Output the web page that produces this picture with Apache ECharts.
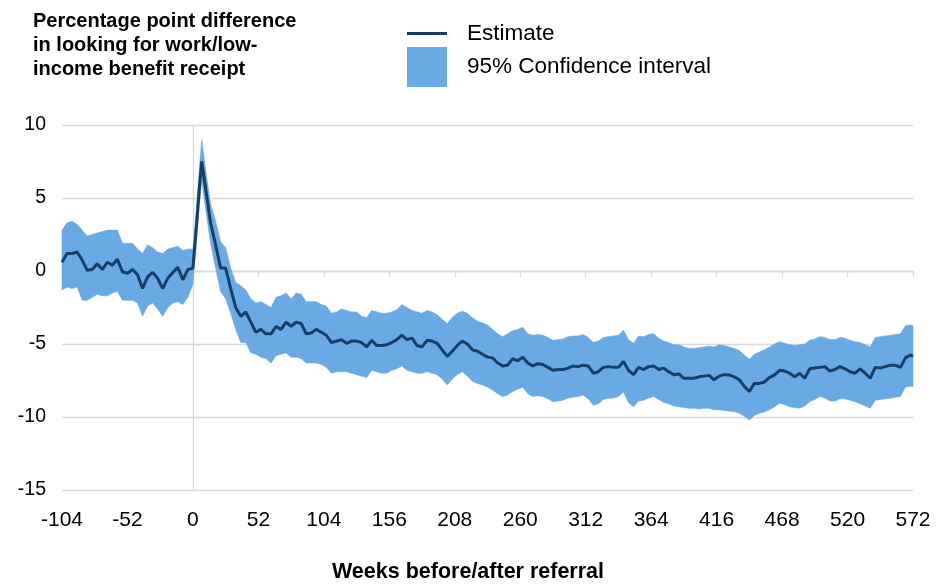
<!DOCTYPE html>
<html><head><meta charset="utf-8">
<script src="https://cdn.jsdelivr.net/npm/echarts@6/dist/echarts.min.js"></script>
<style>html,body{margin:0;padding:0;background:#fff}#c{width:936px;height:585px}</style>
</head><body><div id="c"></div>
<script>
// Weeks before/after referral
const weeks = [
  -104,-100,-96,-92,-88,-84,-80,-76,-72,-68,-64,-60,-56,-52,-48,-44,-40,-36,-32,-28,-24,-20,-16,-12,-8,-4,0,
  3,5,7,10,14,
  18,22,26,30,34,38,42,46,50,54,
  58,62,66,70,74,78,82,86,90,94,
  98,102,106,110,114,118,122,126,130,134,
  138,142,146,150,154,158,162,166,170,174,
  178,182,186,190,194,198,202,206,210,214,
  218,222,226,230,234,238,242,246,250,254,
  258,262,266,270,274,278,282,286,290,294,
  298,302,306,310,314,318,322,326,330,334,
  338,342,346,350,354,358,362,366,370,374,
  378,382,386,390,394,398,402,406,410,414,
  418,422,426,430,434,438,442,446,450,454,
  458,462,466,470,474,478,482,486,490,494,
  498,502,506,510,514,518,522,526,530,534,
  538,542,546,550,554,558,562,566,570,572
];
// Estimate (percentage points)
const estimate = [
  0.6,1.2,1.2,1.3,0.75,0.05,0.1,0.5,0.1,0.6,0.4,0.8,-0.05,-0.15,0.1,-0.25,-1.2,-0.4,-0.1,-0.5,-1.2,-0.5,-0.1,0.25,-0.6,0.1,0.2,
  3.3,5.6,7.5,5.7,3.3,
  1.8,0.2,0.2,-1.2,-2.5,-3.1,-2.8,-3.5,-4.2,-4.0,
  -4.3,-4.3,-3.8,-4.0,-3.5,-3.8,-3.5,-3.6,-4.3,-4.25,
  -4.0,-4.2,-4.4,-4.9,-4.8,-4.7,-4.95,-4.8,-4.8,-4.9,
  -5.2,-4.75,-5.1,-5.1,-5.05,-4.9,-4.7,-4.4,-4.7,-4.6,
  -5.1,-5.2,-4.75,-4.8,-4.95,-5.4,-5.85,-5.5,-5.1,-4.8,
  -5.0,-5.4,-5.5,-5.7,-5.9,-5.95,-6.3,-6.5,-6.45,-6.0,
  -6.15,-5.9,-6.3,-6.5,-6.35,-6.4,-6.6,-6.8,-6.75,-6.75,
  -6.65,-6.5,-6.55,-6.45,-6.5,-7.0,-6.9,-6.6,-6.55,-6.6,
  -6.6,-6.2,-6.8,-7.1,-6.6,-6.75,-6.55,-6.5,-6.75,-6.65,
  -6.9,-7.1,-7.05,-7.35,-7.35,-7.35,-7.25,-7.2,-7.15,-7.45,
  -7.2,-7.1,-7.12,-7.25,-7.45,-7.9,-8.25,-7.7,-7.7,-7.6,
  -7.3,-7.12,-6.8,-6.85,-7.0,-7.24,-7.0,-7.35,-6.7,-6.65,
  -6.6,-6.55,-6.85,-6.75,-6.55,-6.7,-6.9,-7.0,-6.7,-7.0,
  -7.35,-6.6,-6.65,-6.55,-6.45,-6.45,-6.6,-5.95,-5.75,-5.85
];
// 95% confidence interval, upper bound
const ciUpper = [
  2.8,3.3,3.4,3.2,2.8,2.4,2.5,2.6,2.7,2.8,2.8,2.8,1.9,1.9,1.9,1.5,1.2,1.8,1.6,1.3,1.2,1.5,1.6,1.7,1.4,1.5,1.5,
  4.5,6.9,9.0,7.0,4.6,
  3.4,2.0,1.6,0.2,-0.8,-1.0,-1.3,-1.9,-2.2,-2.1,
  -2.3,-2.5,-1.8,-1.7,-1.5,-1.9,-1.5,-1.6,-2.1,-2.1,
  -2.1,-2.3,-2.4,-2.9,-2.8,-2.6,-2.7,-2.8,-2.8,-3.1,
  -3.2,-2.7,-2.8,-2.9,-2.9,-2.8,-2.65,-2.3,-2.5,-2.7,
  -2.8,-2.9,-2.7,-2.8,-3.0,-3.3,-3.6,-3.2,-2.9,-2.75,
  -2.9,-3.2,-3.45,-3.55,-3.7,-4.0,-4.3,-4.5,-4.3,-4.1,
  -4.0,-3.85,-4.3,-4.4,-4.35,-4.4,-4.55,-4.75,-4.7,-4.65,
  -4.5,-4.45,-4.45,-4.35,-4.55,-4.9,-4.8,-4.55,-4.5,-4.45,
  -4.4,-4.05,-4.7,-4.95,-4.45,-4.5,-4.35,-4.3,-4.6,-4.8,
  -4.9,-5.05,-5.05,-5.2,-5.3,-5.3,-5.25,-5.2,-5.15,-5.2,
  -5.05,-5.1,-5.2,-5.3,-5.45,-5.75,-6.05,-5.7,-5.55,-5.4,
  -5.2,-5.0,-4.85,-4.95,-5.05,-5.1,-5.05,-5.0,-4.75,-4.65,
  -4.5,-4.55,-4.7,-4.7,-4.55,-4.6,-4.75,-4.85,-4.9,-5.05,
  -5.2,-4.55,-4.5,-4.45,-4.4,-4.35,-4.3,-3.75,-3.7,-3.75
];
// 95% confidence interval, lower bound
const ciLower = [
  -1.3,-1.1,-1.2,-1.1,-2.0,-2.0,-1.8,-1.6,-1.7,-1.7,-1.5,-1.4,-2.0,-2.0,-2.0,-2.2,-3.1,-2.4,-2.2,-2.6,-3.1,-2.5,-2.2,-2.1,-2.3,-1.8,-0.9,
  2.2,4.4,6.2,4.3,1.9,
  0.2,-1.4,-1.9,-2.9,-4.0,-4.9,-4.9,-5.6,-5.7,-5.9,
  -6.0,-6.3,-5.8,-5.7,-5.6,-5.9,-5.9,-6.0,-6.3,-6.3,
  -6.3,-6.4,-6.6,-7.0,-6.9,-6.9,-6.9,-7.0,-7.1,-7.2,
  -7.3,-6.8,-6.9,-7.0,-7.0,-6.8,-6.7,-6.5,-6.8,-6.9,
  -7.0,-7.0,-6.9,-7.0,-7.1,-7.4,-7.8,-7.4,-7.1,-6.9,
  -7.2,-7.55,-7.7,-7.8,-7.95,-8.15,-8.4,-8.6,-8.5,-8.25,
  -8.1,-7.95,-8.4,-8.6,-8.55,-8.6,-8.75,-8.95,-8.9,-8.85,
  -8.7,-8.65,-8.6,-8.5,-8.75,-9.2,-9.1,-8.8,-8.72,-8.7,
  -8.6,-8.3,-9.0,-9.3,-8.9,-8.85,-8.7,-8.6,-8.8,-9.0,
  -9.1,-9.25,-9.3,-9.35,-9.4,-9.4,-9.45,-9.4,-9.4,-9.5,
  -9.5,-9.55,-9.6,-9.63,-9.75,-9.95,-10.2,-9.9,-9.75,-9.65,
  -9.5,-9.3,-9.06,-9.15,-9.3,-9.35,-9.4,-9.25,-8.95,-8.8,
  -8.6,-8.7,-8.9,-8.9,-8.75,-8.75,-8.85,-8.95,-9.1,-9.25,
  -9.4,-8.85,-8.8,-8.75,-8.72,-8.65,-8.6,-7.95,-7.9,-7.92
];
const xAxisTicks = {min: -104, max: 572, interval: 52};
const yAxisTicks = {min: -15, max: 10, interval: 5};
const titleLines = ['Percentage point difference', 'in looking for work/low-', 'income benefit receipt'];
const xAxisTitle = 'Weeks before/after referral';
const seriesNames = {estimate: 'Estimate', ci: '95% Confidence interval'};

const FONT = '"Liberation Sans", Arial, sans-serif';
const LINE = '#163f68';
const BAND = '#6aaae4';
const GRID = '#d9d9d9';

const estData = weeks.map((w, i) => [w, estimate[i]]);
const bandData = weeks.map((w, i) => [w, ciLower[i], ciUpper[i]]);

function renderBand(params, api) {
  if (params.dataIndex !== 0) return null;
  const pts = [];
  for (let i = 0; i < bandData.length; i++) pts.push(api.coord([bandData[i][0], bandData[i][2]]));
  for (let i = bandData.length - 1; i >= 0; i--) pts.push(api.coord([bandData[i][0], bandData[i][1]]));
  return {type: 'polygon', shape: {points: pts}, style: {fill: BAND, stroke: BAND, lineWidth: 0.6}, silent: true};
}

const chart = echarts.init(document.getElementById('c'), null, {renderer: 'canvas'});
chart.setOption({
  animation: false,
  backgroundColor: '#fff',
  textStyle: {fontFamily: FONT},
  title: [
    {text: titleLines.join('\n'), left: 33, top: 9, padding: 0,
     textStyle: {fontSize: 20, fontWeight: 'bold', lineHeight: 24, color: '#000', fontFamily: FONT}},
    {text: xAxisTitle, left: 'center', top: 561, padding: 0,
     textStyle: {fontSize: 21.5, fontWeight: 'bold', color: '#000', fontFamily: FONT}}
  ],
  legend: [
    {data: [{name: seriesNames.estimate, icon: 'rect'}], left: 407, top: 22, padding: 0,
     itemWidth: 40, itemHeight: 3, itemStyle: {color: LINE, borderWidth: 0},
     textStyle: {fontSize: 22.5, color: '#000', fontFamily: FONT, padding: [2, 0, 0, 15]}, selectedMode: false},
    {data: [{name: seriesNames.ci, icon: 'rect'}], left: 407, top: 47, padding: 0,
     itemWidth: 40, itemHeight: 40, itemStyle: {color: BAND, borderWidth: 0},
     textStyle: {fontSize: 22.5, color: '#000', fontFamily: FONT, padding: [8, 0, 0, 15]}, selectedMode: false}
  ],
  grid: {left: 62, right: 23, top: 125, bottom: 95, containLabel: false},
  xAxis: [
    {type: 'value', min: xAxisTicks.min, max: xAxisTicks.max, interval: xAxisTicks.interval, position: 'bottom',
     axisLine: {show: false, onZero: false}, axisTick: {show: false}, splitLine: {show: false},
     axisLabel: {fontSize: 21, color: '#000', margin: 20, fontFamily: FONT}},
    {type: 'value', min: xAxisTicks.min, max: xAxisTicks.max, interval: xAxisTicks.interval, position: 'bottom',
     axisLine: {show: true, onZero: true, lineStyle: {color: GRID, width: 1.3}},
     axisTick: {show: true, length: 6, lineStyle: {color: GRID, width: 1.3}},
     axisLabel: {show: false}, splitLine: {show: false}}
  ],
  yAxis: [
    {type: 'value', min: yAxisTicks.min, max: yAxisTicks.max, interval: yAxisTicks.interval,
     axisLine: {show: false, onZero: false}, axisTick: {show: false},
     splitLine: {show: true, lineStyle: {color: GRID, width: 1.3}},
     axisLabel: {fontSize: 19.5, color: '#000', margin: 16, fontFamily: FONT}},
    {type: 'value', min: yAxisTicks.min, max: yAxisTicks.max, interval: yAxisTicks.interval, position: 'left',
     axisLine: {show: true, onZero: true, lineStyle: {color: GRID, width: 1.3}},
     axisTick: {show: false}, axisLabel: {show: false}, splitLine: {show: false}}
  ],
  series: [
    {name: seriesNames.ci, type: 'custom', data: bandData, encode: {x: 0, y: [1, 2]},
     renderItem: renderBand, itemStyle: {color: BAND}, silent: true, z: 1},
    {name: seriesNames.estimate, type: 'line', data: estData, symbol: 'none',
     lineStyle: {color: LINE, width: 3}, itemStyle: {color: LINE}, silent: true, z: 3}
  ]
});
</script>
</body></html>
